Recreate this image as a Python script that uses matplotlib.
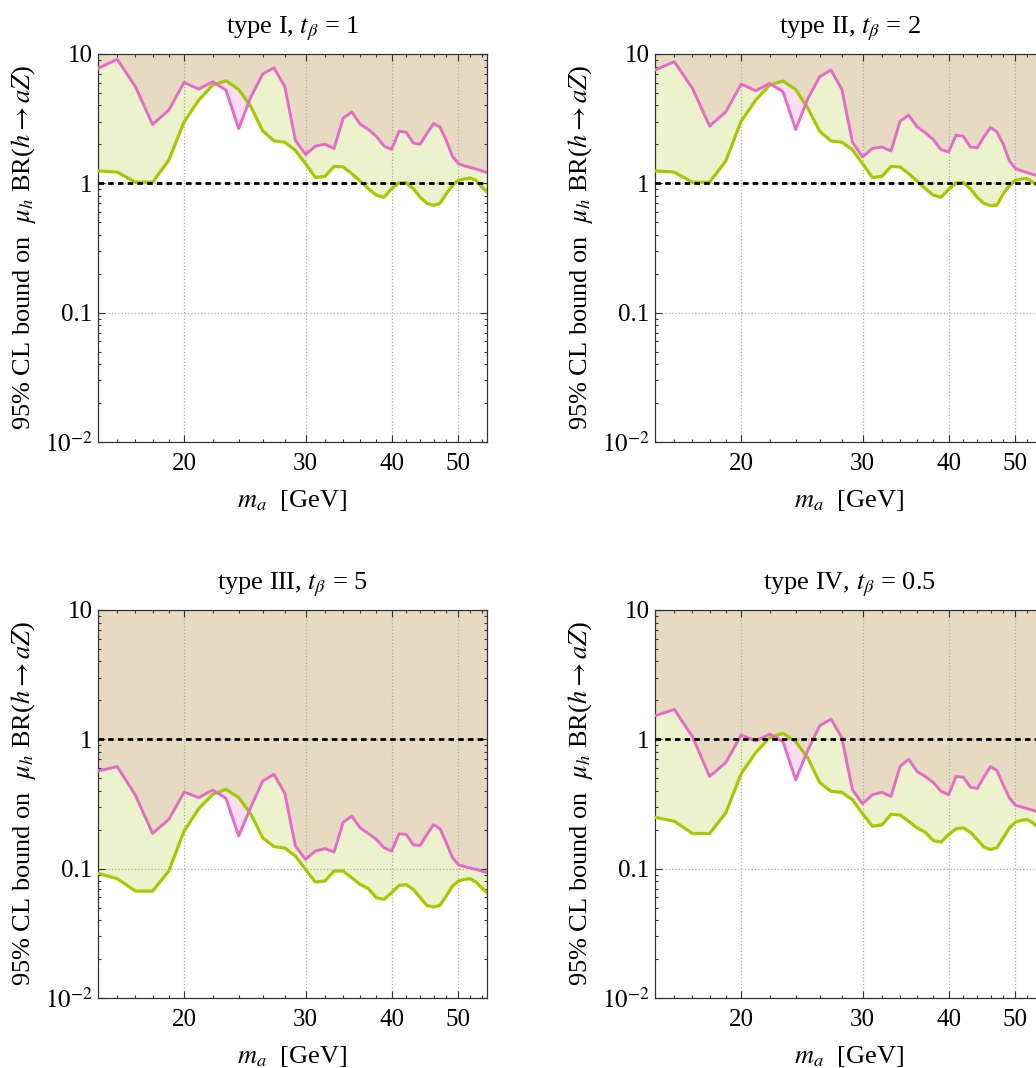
import numpy as np
import matplotlib
matplotlib.use('Agg')
import matplotlib.pyplot as plt
from matplotlib.ticker import LogLocator, NullFormatter

plt.rcParams['font.family'] = ['Liberation Serif', 'DejaVu Serif']
plt.rcParams['mathtext.fontset'] = 'stix'

# masses (GeV), 1 GeV steps
m_a = np.arange(15, 56)

# type I, tb = 1
pink_1 = [7.74, 9.09, 5.58, 2.85, 3.68, 6.03, 5.35, 6.10, 5.26, 2.65, 4.67, 7.00, 7.83, 5.58,
          2.15, 1.67, 1.94, 2.01, 1.86, 3.17, 3.57, 2.87, 2.61, 2.31, 1.94, 1.83, 2.53, 2.48,
          2.05, 2.01, 2.43, 2.90, 2.73, 2.15, 1.62, 1.42, 1.36, 1.33, 1.29, 1.25, 1.21]
green_1 = [1.25, 1.22, 1.02, 1.02, 1.51, 2.99, 4.40, 5.75, 6.21, 5.32, 3.91, 2.55, 2.13, 2.08,
           1.80, 1.42, 1.11, 1.13, 1.35, 1.34, 1.19, 1.04, 0.91, 0.81, 0.78, 0.91, 1.01, 1.01,
           0.91, 0.78, 0.70, 0.675, 0.70, 0.83, 0.965, 1.055, 1.08, 1.10, 1.055, 0.94, 0.86]
# type II, tb = 2
pink_2 = [7.52, 8.72, 5.42, 2.77, 3.57, 5.85, 5.20, 5.92, 5.11, 2.61, 4.53, 6.67, 7.52, 5.32,
          2.09, 1.60, 1.86, 1.91, 1.78, 3.02, 3.37, 2.73, 2.46, 2.18, 1.82, 1.75, 2.36, 2.31,
          1.91, 1.88, 2.29, 2.70, 2.50, 2.01, 1.49, 1.30, 1.25, 1.21, 1.17, 1.14, 1.11]
green_2 = [1.25, 1.22, 1.02, 1.02, 1.49, 3.02, 4.40, 5.75, 6.18, 5.32, 3.79, 2.53, 2.13, 2.08,
           1.82, 1.42, 1.11, 1.13, 1.35, 1.34, 1.19, 1.04, 0.91, 0.81, 0.78, 0.898, 1.01, 1.01,
           0.91, 0.78, 0.70, 0.672, 0.68, 0.83, 0.965, 1.055, 1.08, 1.09, 1.02, 0.94, 0.86]
# type III, tb = 5
pink_3 = [0.569, 0.615, 0.369, 0.1875, 0.2405, 0.391, 0.354, 0.406, 0.350, 0.179, 0.301, 0.476,
          0.536, 0.382, 0.150, 0.118, 0.137, 0.143, 0.1345, 0.227, 0.255, 0.207, 0.1875, 0.1685,
          0.145, 0.137, 0.186, 0.184, 0.153, 0.151, 0.184, 0.219, 0.204, 0.159, 0.122, 0.107,
          0.104, 0.101, 0.099, 0.096, 0.093]
green_3 = [0.092, 0.0836, 0.0671, 0.0671, 0.0959, 0.1955, 0.291, 0.3755, 0.4105, 0.354, 0.263,
           0.1736, 0.1479, 0.1444, 0.1252, 0.0988, 0.0788, 0.0802, 0.0959, 0.0959, 0.0851,
           0.0756, 0.070, 0.0596, 0.0579, 0.0652, 0.0743, 0.0752, 0.0692, 0.0596, 0.0520,
           0.0505, 0.0520, 0.0614, 0.0734, 0.0802, 0.0826, 0.0836, 0.0788, 0.0712, 0.0652]
# type IV, tb = 0.5
pink_4 = [1.521, 1.701, 1.048, 0.516, 0.661, 1.080, 0.971, 1.099, 0.960, 0.487, 0.828, 1.274,
          1.433, 1.030, 0.408, 0.318, 0.373, 0.389, 0.362, 0.616, 0.702, 0.564, 0.516, 0.464,
          0.396, 0.373, 0.516, 0.510, 0.427, 0.417, 0.510, 0.616, 0.574, 0.445, 0.352, 0.309,
          0.300, 0.291, 0.283, 0.274, 0.266]
green_4 = [0.2496, 0.2326, 0.187, 0.187, 0.2697, 0.541, 0.790, 1.030, 1.112, 0.960, 0.714,
           0.464, 0.396, 0.389, 0.3415, 0.266, 0.213, 0.218, 0.2634, 0.260, 0.2326, 0.2067,
           0.1914, 0.1652, 0.1604, 0.1836, 0.2031, 0.2067, 0.1914, 0.1681, 0.1468, 0.1408,
           0.1451, 0.1732, 0.2067, 0.2286, 0.2368, 0.2396, 0.2259, 0.2067, 0.1914]

titles = [r'type I, $t_\beta$ = 1', r'type II, $t_\beta$ = 2',
          r'type III, $t_\beta$ = 5', r'type IV, $t_\beta$ = 0.5']
pinks = [pink_1, pink_2, pink_3, pink_4]
greens = [green_1, green_2, green_3, green_4]

x_major = [20, 30, 40, 50]
x_minor = [16, 17, 18, 19, 22, 24, 26, 28, 32, 34, 36, 38, 42, 44, 46, 48, 52, 54]
y_major = [0.01, 0.1, 1, 10]
y_labels = [r'$10^{-2}$', '0.1', '1', '10']

c_tan = '#E6DBC2'
c_lgreen = '#ECF3CC'
c_lpink = '#F8DEF0'
c_pink = '#E36CC6'
c_green = '#A6C800'

W, H = 1036, 1068
fig = plt.figure(figsize=(W / 100, H / 100), dpi=100)

# axes boxes in pixels: left, top
boxes = [(98, 54), (655, 54), (98, 610), (655, 610)]
aw, ah = 389, 388

for k in range(4):
    l, t = boxes[k]
    ax = fig.add_axes([l / W, 1 - (t + ah) / H, aw / W, ah / H])
    p = np.array(pinks[k])
    g = np.array(greens[k])
    ax.set_xscale('log')
    ax.set_yscale('log')
    ax.set_facecolor(c_tan)
    ax.fill_between(m_a, 0.001, p, color=c_lgreen, lw=0)
    ax.fill_between(m_a, 0.001, g, color='white', lw=0)
    ax.fill_between(m_a, p, g, where=p < g, interpolate=True, color=c_lpink, lw=0)
    ax.plot(m_a, g, color=c_green, lw=2.3, zorder=3)
    ax.plot(m_a, p, color=c_pink, lw=2.1, zorder=3)
    ax.axhline(1, color='black', lw=2.0, ls=(0, (2.0, 1.5)), zorder=4)

    ax.set_xlim(15, 55)
    ax.set_ylim(0.01, 10)
    ax.set_xticks(x_major, labels=[str(v) for v in x_major])
    ax.set_xticks(x_minor, minor=True)
    ax.xaxis.set_minor_formatter(NullFormatter())
    ax.set_yticks(y_major, labels=y_labels)
    ax.yaxis.set_minor_locator(LogLocator(base=10, subs=np.arange(2, 10)))
    ax.yaxis.set_minor_formatter(NullFormatter())
    ax.tick_params(which='both', direction='in', top=True, right=True, labelsize=18,
                   color='#333333', width=0.8)
    ax.tick_params(which='major', length=5, pad=4)
    ax.tick_params(which='minor', length=2.5)
    ax.tick_params(axis='x', which='major', pad=8)

    ax.grid(True, which='major', color='#aaaaaa', ls=':', lw=0.9)
    for s in ax.spines.values():
        s.set_color('#333333')
        s.set_linewidth(0.9)

    ax.set_title(titles[k], fontsize=19, pad=15)
    ax.set_xlabel(r'$m_a$  [GeV]', fontsize=19, labelpad=9)
    ax.set_ylabel(r'95% CL bound on  $\mu_h$ BR($h \to aZ$)', fontsize=19)
    ax.yaxis.set_label_coords(-0.155, 0.5)

fig.savefig('out.png', dpi=100)
